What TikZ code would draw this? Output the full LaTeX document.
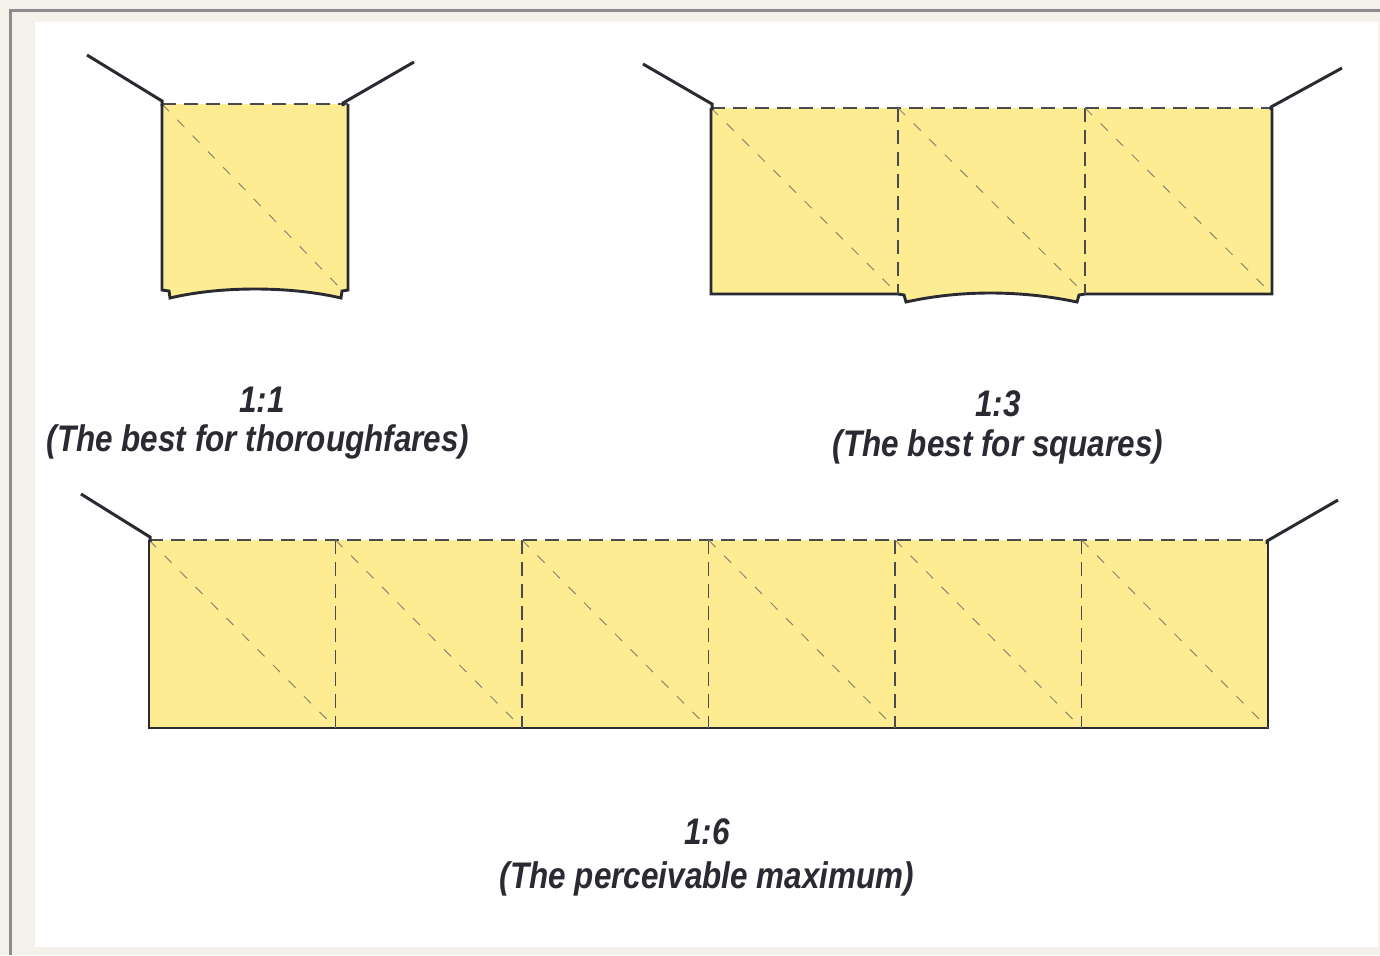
\documentclass[tikz,border=0pt]{standalone}
\usepackage{fontspec}
\newfontfamily\lblfont{Liberation Sans}[FakeStretch=0.85]
\definecolor{paper}{RGB}{244,240,234}
\definecolor{framegray}{RGB}{140,140,140}
\definecolor{ground}{RGB}{254,236,146}
\definecolor{ink}{RGB}{42,42,50}
\definecolor{diag}{RGB}{140,135,110}
\tikzset{
  wall/.style={draw=ink, line width=1.5pt, line join=miter},
  edgesolid/.style={draw=ink, line width=1.45pt},
  edgedash/.style={draw=ink!85, line width=0.85pt, dash pattern=on 7pt off 4pt},
  diagdash/.style={draw=diag, line width=0.5pt, dash pattern=on 5pt off 6pt},
  fillground/.style={fill=ground, draw=none},
  ratio/.style={font=\lblfont\bfseries\itshape\fontsize{18.5}{22}\selectfont, text=ink, inner sep=0pt},
}
\begin{document}
\begin{tikzpicture}[x=0.5pt,y=-0.5pt]
\useasboundingbox (0,0) rectangle (1380,955);
% background and frame
\fill[paper] (0,0) rectangle (1380,955);
\fill[framegray] (9,9) rectangle (1380,12);
\fill[framegray] (9,9) rectangle (12,955);
\fill[white] (35,22) rectangle (1378,947);

% ---------- 1:1 ----------
\path[fillground] (162,104) -- (348,104) -- (348,290) -- (342,291) -- (341,298)
  .. controls (290,286) and (220,286) .. (170,298) -- (169,291) -- (162,290) -- cycle;
\draw[edgesolid] (162,104) -- (162,290) -- (169,291) -- (170,298)
  .. controls (220,286) and (290,286) .. (341,298) -- (342,291) -- (348,290) -- (348,104);
\draw[edgedash] (162,104) -- (348,104);
\draw[diagdash] (162,104) -- (342,290);
\draw[wall] (87,55) -- (162,101) -- (162,106);
\draw[wall] (414,62) -- (343,103) -- (343,106);

% ---------- 1:3 ----------
\path[fillground] (711,108) -- (1272,108) -- (1272,294) -- (1085,294) -- (1079,295) -- (1077,302)
  .. controls (1020,290) and (960,290) .. (906,302) -- (904,295) -- (898,294) -- (711,294) -- cycle;
\draw[edgesolid] (711,108) -- (711,294) -- (898,294) -- (904,295) -- (906,302)
  .. controls (960,290) and (1020,290) .. (1077,302) -- (1079,295) -- (1085,294) -- (1272,294) -- (1272,108);
\draw[edgedash] (711,108) -- (1272,108);
\foreach \x in {898,1085} \draw[edgedash] (\x,108) -- (\x,294);
\foreach \x in {711,898,1085} \draw[diagdash] (\x,108) -- ({\x+187},294);
\draw[wall] (643,64) -- (712,104) -- (712,110);
\draw[wall] (1342,68) -- (1271,107) -- (1271,110);

% ---------- 1:6 ----------
\path[fillground] (149,540) rectangle (1268,728);
\draw[edgesolid] (149,540) -- (149,728) -- (1268,728) -- (1268,540);
\draw[edgedash] (149,540) -- (1268,540);
\foreach \i in {1,...,5} \draw[edgedash] ({149+186.5*\i},540) -- ({149+186.5*\i},728);
\foreach \i in {0,...,5} \draw[diagdash] ({149+186.5*\i},540) -- ({149+186.5*(\i+1)},728);
\draw[wall] (81,494) -- (150,537) -- (150,542);
\draw[wall] (1338,500) -- (1267,541) -- (1267,544);

% ---------- labels ----------
\node[ratio] (r11) at (262,400) {1:1};
\node[ratio] (t11) at (258,442) {(The best for thoroughfares)};
\node[ratio] (r13) at (998,404) {1:3};
\node[ratio] (t13) at (998,447) {(The best for squares)};
\node[ratio] (r16) at (707,832) {1:6};
\node[ratio] (t16) at (707,879) {(The perceivable maximum)};
\end{tikzpicture}
\end{document}
